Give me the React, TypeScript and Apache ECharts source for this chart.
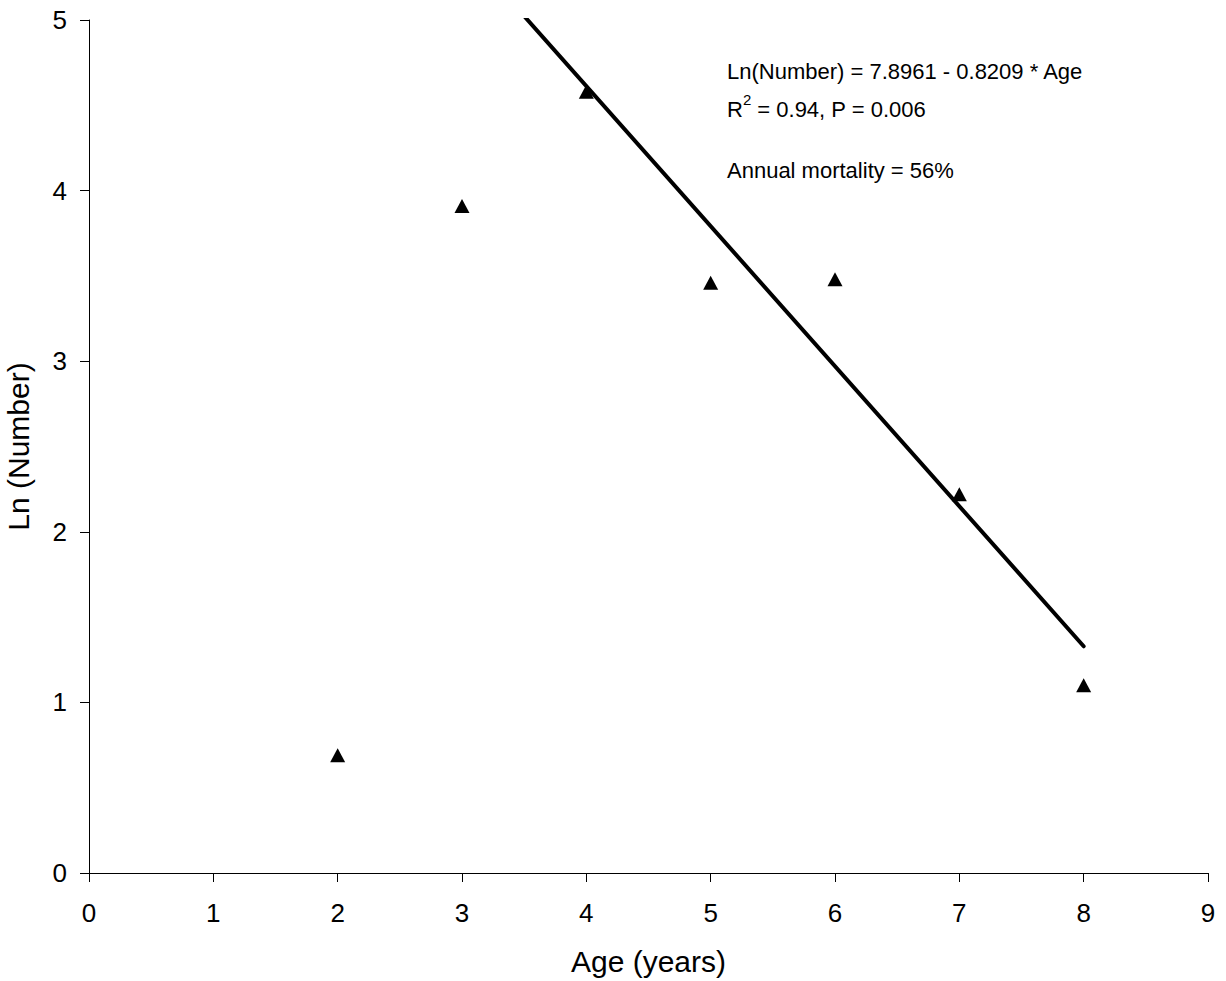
import React, { useEffect, useRef } from "react";
import * as echarts from "echarts";

// Observed ln(number) by age class
const ages = [2, 3, 4, 5, 6, 7, 8];
const lnNumber = [0.69, 3.91, 4.58, 3.46, 3.48, 2.22, 1.1];

// Catch-curve regression: Ln(Number) = intercept + slope * Age
const fitIntercept = 7.8961;
const fitSlope = -0.8209;
const fitAgeRange = [3.5, 8];

const xTicks = [0, 1, 2, 3, 4, 5, 6, 7, 8, 9];
const yTicks = [0, 1, 2, 3, 4, 5];

const FONT = "'Liberation Sans', Arial, Helvetica, sans-serif";

export default function App() {
  const ref = useRef<HTMLDivElement>(null);

  useEffect(() => {
    if (!ref.current) return;
    const chart = echarts.init(ref.current, null, { renderer: "svg" });

    const points = ages.map((a, i) => [a, lnNumber[i]]);
    const fitLine = fitAgeRange.map((a) => [a, fitIntercept + fitSlope * a]);

    chart.setOption({
      animation: false,
      backgroundColor: "#ffffff",
      grid: {
        left: 89,
        top: 20,
        width: 1119,
        height: 853,
        containLabel: false,
        outerBoundsMode: "none",
      },
      xAxis: {
        type: "value",
        min: xTicks[0],
        max: xTicks[xTicks.length - 1],
        interval: 1,
        name: "Age (years)",
        nameLocation: "middle",
        nameGap: 73,
        nameTextStyle: { fontFamily: FONT, fontSize: 30, color: "#000" },
        axisLine: { show: true, lineStyle: { color: "#000", width: 1 } },
        axisTick: { show: true, inside: false, length: 9, lineStyle: { color: "#000" } },
        axisLabel: { fontFamily: FONT, fontSize: 26, color: "#000", margin: 27 },
        splitLine: { show: false },
      },
      yAxis: {
        type: "value",
        min: yTicks[0],
        max: yTicks[yTicks.length - 1],
        interval: 1,
        name: "Ln (Number)",
        nameLocation: "middle",
        nameGap: 56,
        nameRotate: 90,
        nameTextStyle: { fontFamily: FONT, fontSize: 30, color: "#000" },
        axisLine: { show: true, lineStyle: { color: "#000", width: 1 } },
        axisTick: { show: true, inside: false, length: 9, lineStyle: { color: "#000" } },
        axisLabel: { fontFamily: FONT, fontSize: 26, color: "#000", margin: 22 },
        splitLine: { show: false },
      },
      series: [
        {
          type: "line",
          data: fitLine,
          showSymbol: false,
          symbol: "none",
          clip: true,
          lineStyle: { color: "#000", width: 4, cap: "round" },
          z: 2,
        },
        {
          type: "scatter",
          data: points,
          symbol: "triangle",
          symbolSize: [15, 14],
          itemStyle: { color: "#000", opacity: 1 },
          z: 3,
        },
      ],
      graphic: [
        {
          type: "text",
          left: 727,
          top: 60,
          style: {
            text: "Ln(Number) = 7.8961 - 0.8209 * Age",
            font: `22px ${FONT}`,
            fill: "#000",
          },
        },
        {
          type: "text",
          left: 727,
          top: 92,
          style: {
            text: "{a|R}{sup|2}{a| = 0.94, P = 0.006}",
            fill: "#000",
            rich: {
              a: { fontFamily: FONT, fontSize: 22, lineHeight: 28, fill: "#000", verticalAlign: "bottom" },
              sup: { fontFamily: FONT, fontSize: 15, lineHeight: 22, fill: "#000", verticalAlign: "top" },
            },
          },
        },
        {
          type: "text",
          left: 727,
          top: 159,
          style: {
            text: "Annual mortality = 56%",
            font: `22px ${FONT}`,
            fill: "#000",
          },
        },
      ],
    });

    return () => chart.dispose();
  }, []);

  return (
    <div
      ref={ref}
      style={{ position: "fixed", left: 0, top: 0, width: 1226, height: 981 }}
    />
  );
}
